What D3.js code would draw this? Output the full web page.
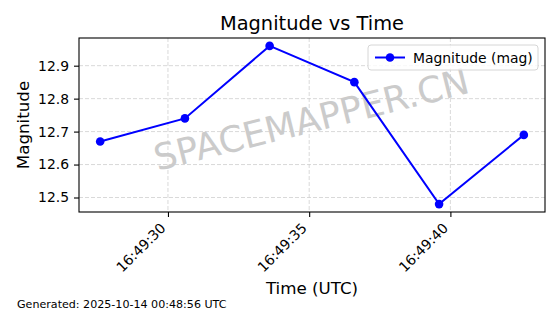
<!DOCTYPE html>
<html>
<head>
<meta charset="utf-8">
<script src="https://cdn.jsdelivr.net/npm/d3@7"></script>
<style>
	body { margin: 0; background: #fff; }
	svg { display: block; font-family: "DejaVu Sans", sans-serif; }
</style>
</head>
<body>
<div id="chart-area"></div>
<script>
// data
var times = ["16:49:27.6", "16:49:30.6", "16:49:33.6", "16:49:36.6", "16:49:39.6", "16:49:42.6"];
var magnitudes = [12.67, 12.74, 12.96, 12.85, 12.48, 12.69];
var yTicks = [12.5, 12.6, 12.7, 12.8, 12.9];
var titleText = "Magnitude vs Time";
var seriesName = "Magnitude (mag)";
var footerText = "Generated: 2025-10-14 00:48:56 UTC";

var W = 560, H = 314;
var margin = { left: 79, top: 38, right: 15, bottom: 102 };
var width = W - margin.left - margin.right;
var height = H - margin.top - margin.bottom;

var parseTime = d3.utcParse("%H:%M:%S.%L");
var data = times.map(function (t, i) {
	return { time: parseTime(t + "00"), mag: magnitudes[i] };
});

var svg = d3.select("#chart-area").append("svg")
	.attr("width", W)
	.attr("height", H);

var g = svg.append("g")
	.attr("transform", "translate(" + margin.left + "," + margin.top + ")");

// SCALES (5% padding like matplotlib)
var tExt = d3.extent(data, d => +d.time);
var tPad = (tExt[1] - tExt[0]) * 0.05;
var x = d3.scaleUtc()
	.domain([new Date(tExt[0] - tPad), new Date(tExt[1] + tPad)])
	.range([0, width]);
var mExt = d3.extent(data, d => d.mag);
var mPad = (mExt[1] - mExt[0]) * 0.05;
var y = d3.scaleLinear()
	.domain([mExt[0] - mPad, mExt[1] + mPad])
	.range([height, 0]);

var xTicks = x.ticks(d3.utcSecond.every(5));

// grid
var gridColor = "#cfcfcf";
g.append("g").selectAll("line").data(xTicks).enter().append("line")
	.attr("x1", d => x(d)).attr("x2", d => x(d))
	.attr("y1", 0).attr("y2", height)
	.attr("stroke", gridColor).attr("stroke-width", 0.8)
	.attr("stroke-dasharray", "4,2");
g.append("g").selectAll("line").data(yTicks).enter().append("line")
	.attr("x1", 0).attr("x2", width)
	.attr("y1", d => y(d)).attr("y2", d => y(d))
	.attr("stroke", gridColor).attr("stroke-width", 0.8)
	.attr("stroke-dasharray", "4,2");

// watermark
g.append("text")
	.attr("transform", "translate(" + (width / 2) + "," + (height / 2 - 3) + ") rotate(-14)")
	.attr("text-anchor", "middle")
	.attr("dominant-baseline", "middle")
	.attr("font-size", "36px")
	.attr("fill", "#cbcbcb")
	.text("SPACEMAPPER.CN");

// line + markers
var line = d3.line().x(d => x(d.time)).y(d => y(d.mag));
g.append("path")
	.datum(data)
	.attr("fill", "none")
	.attr("stroke", "#0000ff")
	.attr("stroke-width", 2)
	.attr("d", line);
g.selectAll("circle.pt").data(data).enter().append("circle")
	.attr("class", "pt")
	.attr("cx", d => x(d.time))
	.attr("cy", d => y(d.mag))
	.attr("r", 4.3)
	.attr("fill", "#0000ff");

// axes
var xAxis = g.append("g")
	.attr("transform", "translate(0," + height + ")")
	.call(d3.axisBottom(x).tickValues(xTicks).tickSize(5).tickFormat(d3.utcFormat("%H:%M:%S")));
xAxis.select(".domain").remove();
xAxis.selectAll("text")
	.attr("font-family", "DejaVu Sans")
	.attr("font-size", "13.9px")
	.attr("fill", "#000")
	.attr("text-anchor", "end")
	.attr("dy", null)
	.attr("y", 0)
	.attr("transform", "translate(-2,17) rotate(-45)");

var yAxis = g.append("g")
	.call(d3.axisLeft(y).tickValues(yTicks).tickSize(5).tickPadding(5).tickFormat(d3.format(".1f")));
yAxis.select(".domain").remove();
yAxis.selectAll("text")
	.attr("font-family", "DejaVu Sans")
	.attr("font-size", "13.9px")
	.attr("fill", "#000");
svg.selectAll(".tick line").attr("stroke", "#000").attr("stroke-width", 1.1);

// frame
g.append("rect")
	.attr("width", width).attr("height", height)
	.attr("fill", "none").attr("stroke", "#000").attr("stroke-width", 1.1);

// legend
var legend = g.append("g").attr("transform", "translate(" + (width - 177) + ",7)");
legend.append("rect")
	.attr("width", 170).attr("height", 25).attr("rx", 3)
	.attr("fill", "#fff").attr("fill-opacity", 0.8)
	.attr("stroke", "#d6d6d6").attr("stroke-width", 1);
legend.append("line")
	.attr("x1", 7).attr("x2", 37).attr("y1", 12.5).attr("y2", 12.5)
	.attr("stroke", "#0000ff").attr("stroke-width", 2);
legend.append("circle")
	.attr("cx", 22).attr("cy", 12.5).attr("r", 4.3).attr("fill", "#0000ff");
legend.append("text")
	.attr("x", 45).attr("y", 17.5)
	.attr("font-size", "13.9px")
	.text(seriesName);

// LABELS
svg.append("text")
	.attr("x", margin.left + width / 2).attr("y", 30)
	.attr("text-anchor", "middle")
	.attr("font-size", "19.4px")
	.text(titleText);
svg.append("text")
	.attr("x", margin.left + width / 2).attr("y", 294)
	.attr("text-anchor", "middle")
	.attr("font-size", "16.7px")
	.text("Time (UTC)");
svg.append("text")
	.attr("transform", "translate(29," + (margin.top + height / 2) + ") rotate(-90)")
	.attr("text-anchor", "middle")
	.attr("font-size", "16.7px")
	.text("Magnitude");
svg.append("text")
	.attr("x", 17).attr("y", 308)
	.attr("font-size", "11.1px")
	.text(footerText);
</script>
</body>
</html>
